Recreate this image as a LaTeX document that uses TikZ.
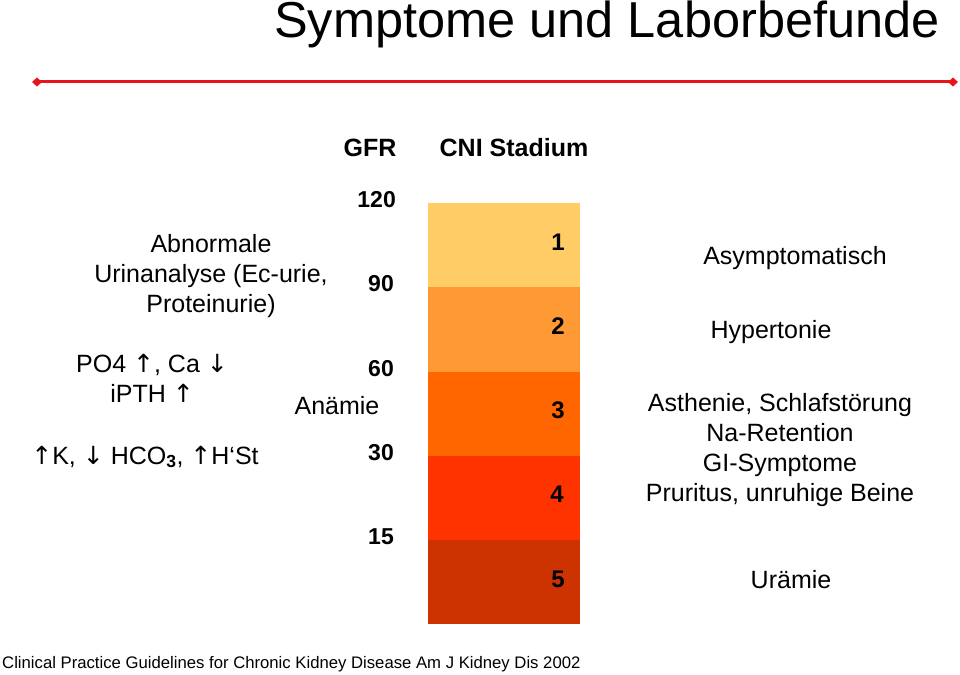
\documentclass[tikz,border=0pt]{standalone}
\usepackage{fontspec}
\setmainfont{Liberation Sans}
\newfontfamily\arrfont{DejaVu Sans}
\usetikzlibrary{arrows.meta}
\definecolor{st1}{HTML}{FFCC66}
\definecolor{st2}{HTML}{FF9933}
\definecolor{st3}{HTML}{FF6600}
\definecolor{st4}{HTML}{FF3300}
\definecolor{st5}{HTML}{CC3300}
\definecolor{rline}{HTML}{E8141B}
\newcommand{\up}{{\arrfont\char"2191}}
\newcommand{\dn}{{\arrfont\char"2193}}
\tikzset{
  txt/.style={font=\fontsize{25}{30}\selectfont, inner sep=0pt, align=center},
  bld/.style={font=\bfseries\fontsize{25}{30}\selectfont, inner sep=0pt},
  num/.style={font=\bfseries\fontsize{23}{28}\selectfont, inner sep=0pt, anchor=east},
  stnum/.style={font=\bfseries\fontsize{24}{28}\selectfont, inner sep=0pt},
  seg/.style={draw=none, minimum width=152pt, minimum height=84.2pt, inner sep=0pt, anchor=north west}
}
\begin{document}
\begin{tikzpicture}[x=1pt,y=-1pt]
\useasboundingbox (0,0) rectangle (960,674);
% title
\node[font=\fontsize{50.5}{58}\selectfont, inner sep=0pt, anchor=base] (title) at (607,38) {Symptome und Laborbefunde};
% red rule
\coordinate (rl) at (32,82);
\coordinate (rr) at (958,82);
\draw[rline, line width=3pt, {Diamond[length=10pt,width=9pt]}-{Diamond[length=10pt,width=9pt]}] (rl) -- (rr);
% headers
\node[bld] (gfr) at (370,148) {GFR};
\node[bld] (cni) at (514,148) {CNI Stadium};
% GFR values
\node[num] (g120) at (396,200) {120};
\node[num] (g90) at (394,284) {90};
\node[num] (g60) at (394,369) {60};
\node[num] (g30) at (394,453) {30};
\node[num] (g15) at (394,537) {15};
\node[txt] (anaemie) at (337,406) {Anämie};
% stage bar
\node[seg, fill=st1] (s1) at (428,203) {};
\node[seg, fill=st2] (s2) at (428,287.2) {};
\node[seg, fill=st3] (s3) at (428,371.4) {};
\node[seg, fill=st4] (s4) at (428,455.6) {};
\node[seg, fill=st5] (s5) at (428,539.8) {};
\node[stnum] (n1) at (558,242) {1};
\node[stnum] (n2) at (558,326) {2};
\node[stnum] (n3) at (558,410) {3};
\node[stnum] (n4) at (557,494) {4};
\node[stnum] (n5) at (558,579) {5};
% left texts
\node[txt] (urin) at (211,276) {Abnormale\\Urinanalyse (Ec-urie,\\Proteinurie)};
\node[txt] (po4) at (152,378) {PO4 \up, Ca \dn\\iPTH \up};
\node[txt] (kh) at (145,457) {\up K, \dn\ HCO\textsubscript{\bfseries 3}, \up H‘St};
% right texts
\node[txt] (asym) at (795,258) {Asymptomatisch};
\node[txt] (hyper) at (771,332) {Hypertonie};
\node[txt] (asth) at (780,450) {Asthenie, Schlafstörung\\Na-Retention\\GI-Symptome\\Pruritus, unruhige Beine};
\node[txt] (uraem) at (791,580) {Urämie};
% footer
\node[font=\fontsize{16.7}{20}\selectfont, inner sep=0pt, anchor=west] (foot) at (2,664) {Clinical Practice Guidelines for Chronic Kidney Disease Am J Kidney Dis 2002};
\end{tikzpicture}
\end{document}
